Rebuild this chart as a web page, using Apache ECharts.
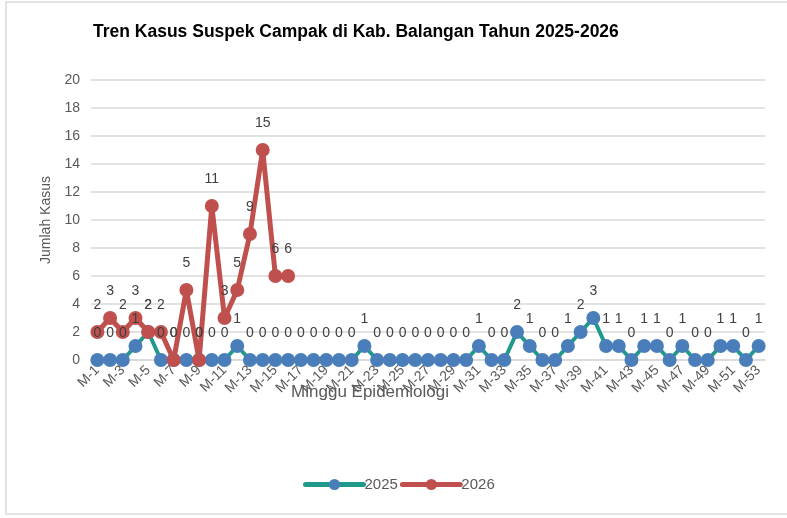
<!DOCTYPE html>
<html>
<head>
<meta charset="utf-8">
<script src="https://cdn.jsdelivr.net/npm/echarts@6/dist/echarts.min.js"></script>
<style>
  html, body { margin: 0; padding: 0; background: #fff; }
  #chart { width: 787px; height: 518px; }
</style>
</head>
<body>
<div id="chart"></div>
<script>
  // minggu epidemiologi M-1 .. M-53
  var weeks = [];
  for (var i = 1; i <= 53; i++) {
    weeks.push('M-' + i);
  }
  var kasus2025 = [0, 0, 0, 1, 2, 0, 0, 0, 0, 0, 0, 1, 0, 0, 0, 0, 0, 0, 0, 0, 0, 1, 0, 0, 0, 0, 0, 0, 0, 0,
    1, 0, 0, 2, 1, 0, 0, 1, 2, 3, 1, 1, 0, 1, 1, 0, 1, 0, 0, 1, 1, 0, 1];
  var kasus2026 = [2, 3, 2, 3, 2, 2, 0, 5, 0, 11, 3, 5, 9, 15, 6, 6];
  var yTicks = { min: 0, max: 20, interval: 2 };

  var myChart = echarts.init(document.getElementById('chart'));
  var labelStyle = {
    show: true,
    position: 'top',
    distance: 13,
    fontSize: 14,
    color: '#404040',
    fontFamily: 'Liberation Sans'
  };
  var option = {
    animation: false,
    textStyle: { fontFamily: 'Liberation Sans' },
    title: {
      text: 'Tren Kasus Suspek Campak di Kab. Balangan Tahun 2025-2026',
      left: 88,
      top: 18,
      textStyle: { fontSize: 17.5, fontWeight: 'bold', color: '#000', fontFamily: 'Liberation Sans' }
    },
    graphic: [{
      type: 'rect',
      shape: { x: 6, y: 2, width: 800, height: 512 },
      style: { fill: 'none', stroke: '#dcdcdc', lineWidth: 1.5 },
      silent: true
    }],
    legend: {
      bottom: 21,
      left: 298,
      itemWidth: 58,
      itemHeight: 14,
      itemGap: 2,
      textStyle: { fontSize: 15, color: '#595959', padding: [0, 0, 0, -4] },
      data: [
        { name: '2025', lineStyle: { width: 5, cap: 'round' } },
        { name: '2026', lineStyle: { width: 5, cap: 'round' } }
      ]
    },
    grid: { left: 91, right: 22, top: 80, bottom: 158 },
    xAxis: {
      type: 'category',
      data: weeks,
      boundaryGap: true,
      name: 'Minggu Epidemiologi',
      nameLocation: 'middle',
      nameGap: 24,
      nameMoveOverlap: false,
      nameTextStyle: { fontSize: 17, color: '#595959', padding: [0, 116, 0, 0] },
      axisLine: { lineStyle: { color: '#d9d9d9', width: 1.5 } },
      axisTick: { show: false },
      axisLabel: { interval: 1, rotate: 45, fontSize: 14, color: '#595959', margin: 8 }
    },
    yAxis: {
      type: 'value',
      min: yTicks.min,
      max: yTicks.max,
      interval: yTicks.interval,
      name: 'Jumlah Kasus',
      nameLocation: 'middle',
      nameGap: 33,
      nameTextStyle: { fontSize: 14, color: '#595959' },
      axisLine: { show: false },
      axisTick: { show: false },
      axisLabel: { fontSize: 14, color: '#595959', margin: 11 },
      splitLine: { lineStyle: { color: '#d9d9d9', width: 1.5 } }
    },
    series: [{
      name: '2025',
      type: 'line',
      data: kasus2025,
      symbol: 'circle',
      symbolSize: 14,
      showAllSymbol: true,
      itemStyle: { color: '#4a7ebb' },
      lineStyle: { color: '#1f9a8a', width: 4 },
      label: labelStyle
    }, {
      name: '2026',
      type: 'line',
      data: kasus2026,
      symbol: 'circle',
      symbolSize: 14,
      showAllSymbol: true,
      itemStyle: { color: '#c0504d' },
      lineStyle: { color: '#c0504d', width: 5 },
      label: labelStyle
    }]
  };
  myChart.setOption(option);
</script>
</body>
</html>
